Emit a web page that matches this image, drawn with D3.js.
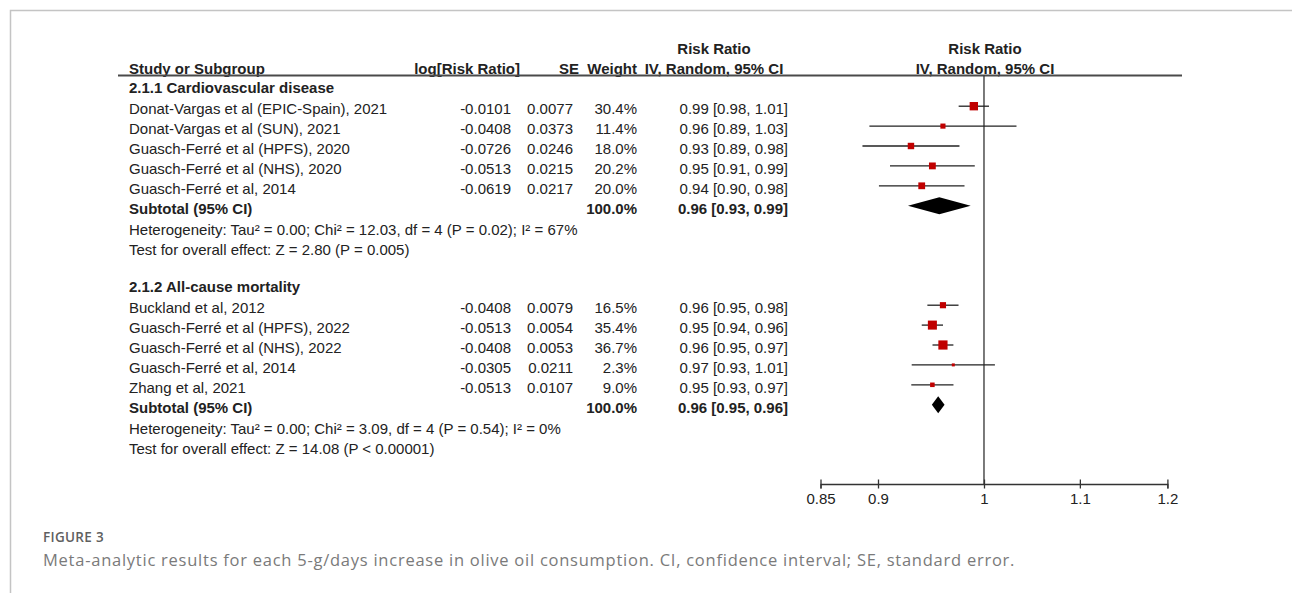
<!DOCTYPE html>
<html>
<head>
<meta charset="utf-8">
<script src="https://cdn.jsdelivr.net/npm/d3@7"></script>
<style>
  html, body { margin: 0; padding: 0; background: #fff; }
  svg { display: block; }
</style>
</head>
<body>
<div id="chart"></div>
<script>
// ---------- data ----------
const groupTitles = ["2.1.1 Cardiovascular disease", "2.1.2 All-cause mortality"];
const studyNames = [
  "Donat-Vargas et al (EPIC-Spain), 2021",
  "Donat-Vargas et al (SUN), 2021",
  "Guasch-Ferré et al (HPFS), 2020",
  "Guasch-Ferré et al (NHS), 2020",
  "Guasch-Ferré et al, 2014",
  "Buckland et al, 2012",
  "Guasch-Ferré et al (HPFS), 2022",
  "Guasch-Ferré et al (NHS), 2022",
  "Guasch-Ferré et al, 2014",
  "Zhang et al, 2021"
];
const studyGroup = [0, 0, 0, 0, 0, 1, 1, 1, 1, 1];
const logRR = [-0.0101, -0.0408, -0.0726, -0.0513, -0.0619, -0.0408, -0.0513, -0.0408, -0.0305, -0.0513];
const seValues = [0.0077, 0.0373, 0.0246, 0.0215, 0.0217, 0.0079, 0.0054, 0.0053, 0.0211, 0.0107];
const weights = [30.4, 11.4, 18.0, 20.2, 20.0, 16.5, 35.4, 36.7, 2.3, 9.0];
const ciLabels = [
  "0.99 [0.98, 1.01]", "0.96 [0.89, 1.03]", "0.93 [0.89, 0.98]", "0.95 [0.91, 0.99]", "0.94 [0.90, 0.98]",
  "0.96 [0.95, 0.98]", "0.95 [0.94, 0.96]", "0.96 [0.95, 0.97]", "0.97 [0.93, 1.01]", "0.95 [0.93, 0.97]"
];
const subtotalLogRR = [-0.0444, -0.0455];
const subtotalSE = [0.0159, 0.00323];
const subtotalWeights = ["100.0%", "100.0%"];
const subtotalLabels = ["0.96 [0.93, 0.99]", "0.96 [0.95, 0.96]"];
const heterogeneityText = [
  "Heterogeneity: Tau² = 0.00; Chi² = 12.03, df = 4 (P = 0.02); I² = 67%",
  "Heterogeneity: Tau² = 0.00; Chi² = 3.09, df = 4 (P = 0.54); I² = 0%"
];
const overallTestText = [
  "Test for overall effect: Z = 2.80 (P = 0.005)",
  "Test for overall effect: Z = 14.08 (P < 0.00001)"
];
const axisTicks = [0.85, 0.9, 1, 1.1, 1.2];
const captionLabel = "FIGURE 3";
const captionText = "Meta-analytic results for each 5-g/days increase in olive oil consumption. CI, confidence interval; SE, standard error.";

// ---------- layout ----------
const W = 1292, H = 593;
const svg = d3.select("#chart").append("svg").attr("width", W).attr("height", H);
const FONT = "'Liberation Sans', Arial, Helvetica, sans-serif";
const TXT = "#222";

// frame
svg.append("path")
  .attr("d", `M10.5,${H} L10.5,10.5 L${W},10.5`)
  .attr("fill", "none").attr("stroke", "#c4c4c4").attr("stroke-width", 1.5);

// build row list
const rows = [];
groupTitles.forEach((gt, gi) => {
  rows.push({ type: "group", text: gt });
  studyNames.forEach((n, i) => { if (studyGroup[i] === gi) rows.push({ type: "study", idx: i }); });
  rows.push({ type: "subtotal", gi });
  rows.push({ type: "het", gi });
  rows.push({ type: "test", gi });
  if (gi < groupTitles.length - 1) rows.push({ type: "blank" });
});

const yRow = d3.scaleLinear().domain([0, 1]).range([93.3, 113.2]); // text baselines
const markOffset = -7;

const x = d3.scaleLog().domain([0.85, 1.2]).range([820.5, 1167.4]);
const sizeScale = d3.scaleSqrt().domain([0, 40]).range([0, 9.6]);

const colLeft = 129, logRight = 511, seRight = 573, wRight = 637, ciRight = 788, ciHeadCenter = 714;
const plotCenter = x(1);

const g = svg.append("g").attr("font-family", FONT).attr("font-size", 15).attr("fill", TXT);

// headers
g.append("text").attr("x", ciHeadCenter).attr("y", 53.5).attr("text-anchor", "middle").attr("font-weight", "bold").text("Risk Ratio");
g.append("text").attr("x", x(1) + 1).attr("y", 53.5).attr("text-anchor", "middle").attr("font-weight", "bold").text("Risk Ratio");
const headY = 73.5;
g.append("text").attr("x", colLeft).attr("y", headY).attr("font-weight", "bold").text("Study or Subgroup");
g.append("text").attr("x", 520).attr("y", headY).attr("text-anchor", "end").attr("font-weight", "bold").text("log[Risk Ratio]");
g.append("text").attr("x", 579).attr("y", headY).attr("text-anchor", "end").attr("font-weight", "bold").text("SE");
g.append("text").attr("x", wRight).attr("y", headY).attr("text-anchor", "end").attr("font-weight", "bold").text("Weight");
g.append("text").attr("x", ciHeadCenter).attr("y", headY).attr("text-anchor", "middle").attr("font-weight", "bold").text("IV, Random, 95% CI");
g.append("text").attr("x", x(1) + 1).attr("y", headY).attr("text-anchor", "middle").attr("font-weight", "bold").text("IV, Random, 95% CI");

// header line
svg.append("line").attr("x1", 118).attr("x2", 1182).attr("y1", 75.5).attr("y2", 75.5)
  .attr("stroke", "#4a4a4a").attr("stroke-width", 1.8);

// axis
const axisY = 484;
svg.append("line").attr("x1", plotCenter).attr("x2", plotCenter).attr("y1", 75.5).attr("y2", axisY)
  .attr("stroke", "#333").attr("stroke-width", 1.3);

const axisG = svg.append("g").attr("transform", `translate(0,${axisY})`)
  .call(d3.axisBottom(x).tickValues(axisTicks).tickFormat(d => String(d)).tickSizeOuter(0).tickSize(4.5));
axisG.select(".domain").attr("stroke", "#333").attr("stroke-width", 1.3);
axisG.selectAll(".tick line").attr("stroke", "#333").attr("stroke-width", 1.3).attr("y1", -4.5).attr("y2", 4.5);
axisG.selectAll(".tick text").attr("font-family", FONT).attr("font-size", 15).attr("fill", TXT).attr("dy", 0).attr("y", 20);

// rows
rows.forEach((r, i) => {
  const yb = yRow(i);
  const ym = yb + markOffset;
  if (r.type === "group") {
    g.append("text").attr("x", colLeft).attr("y", yb).attr("font-weight", "bold").text(r.text);
  } else if (r.type === "study") {
    const k = r.idx;
    g.append("text").attr("x", colLeft).attr("y", yb + 1).text(studyNames[k]);
    g.append("text").attr("x", logRight).attr("y", yb + 1).attr("text-anchor", "end").text(logRR[k].toFixed(4));
    g.append("text").attr("x", seRight).attr("y", yb + 1).attr("text-anchor", "end").text(seValues[k].toFixed(4));
    g.append("text").attr("x", wRight).attr("y", yb + 1).attr("text-anchor", "end").text(weights[k].toFixed(1) + "%");
    g.append("text").attr("x", ciRight).attr("y", yb + 1).attr("text-anchor", "end").text(ciLabels[k]);
    const lo = Math.exp(logRR[k] - 1.96 * seValues[k]);
    const hi = Math.exp(logRR[k] + 1.96 * seValues[k]);
    svg.append("line").attr("x1", x(lo)).attr("x2", x(hi)).attr("y1", ym).attr("y2", ym)
      .attr("stroke", "#222").attr("stroke-width", 1.3);
    const s = Math.max(3, sizeScale(weights[k]));
    svg.append("rect").attr("x", x(Math.exp(logRR[k])) - s / 2).attr("y", ym - s / 2)
      .attr("width", s).attr("height", s).attr("fill", "#c00000");
  } else if (r.type === "subtotal") {
    const gi = r.gi;
    g.append("text").attr("x", colLeft).attr("y", yb + 1).attr("font-weight", "bold").text("Subtotal (95% CI)");
    g.append("text").attr("x", wRight).attr("y", yb + 1).attr("text-anchor", "end").attr("font-weight", "bold").text(subtotalWeights[gi]);
    g.append("text").attr("x", ciRight).attr("y", yb + 1).attr("text-anchor", "end").attr("font-weight", "bold").text(subtotalLabels[gi]);
    const c = x(Math.exp(subtotalLogRR[gi]));
    const lo = x(Math.exp(subtotalLogRR[gi] - 1.96 * subtotalSE[gi]));
    const hi = x(Math.exp(subtotalLogRR[gi] + 1.96 * subtotalSE[gi]));
    const hh = 8.5;
    svg.append("path").attr("d", `M${lo},${ym} L${c},${ym - hh} L${hi},${ym} L${c},${ym + hh} Z`).attr("fill", "#000");
  } else if (r.type === "het") {
    g.append("text").attr("x", colLeft).attr("y", yb + 2).text(heterogeneityText[r.gi]);
  } else if (r.type === "test") {
    g.append("text").attr("x", colLeft).attr("y", yb + 2).text(overallTestText[r.gi]);
  }
});

// caption
svg.append("text").attr("x", 43).attr("y", 542).attr("font-family", "'Open Sans', sans-serif")
  .attr("font-size", 13.5).attr("font-weight", 600).attr("letter-spacing", 0.3).attr("fill", "#5f5f5f").text(captionLabel);
svg.append("text").attr("x", 43).attr("y", 566).attr("font-family", "'Open Sans', sans-serif")
  .attr("font-size", 16.5).attr("font-weight", 400).attr("letter-spacing", 0.75).attr("fill", "#7a7a7a").text(captionText);
</script>
</body>
</html>
